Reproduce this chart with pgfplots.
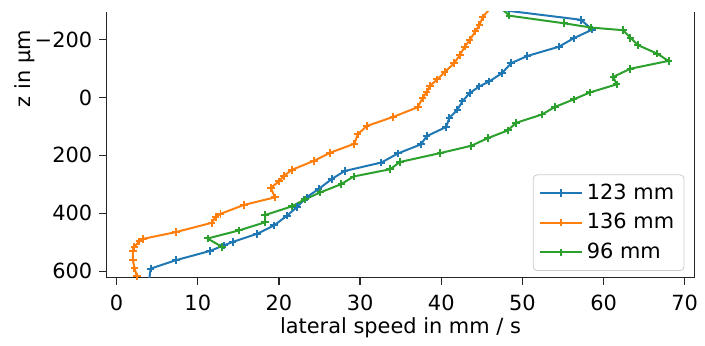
\documentclass[border=0pt]{standalone}
\usepackage{fontspec}
\setmainfont{DejaVu Sans}
\usepackage{pgfplots}
\pgfplotsset{compat=1.18}
\definecolor{tabblue}{HTML}{1F77B4}
\definecolor{taborange}{HTML}{FF7F0E}
\definecolor{tabgreen}{HTML}{2CA02C}
\begin{document}
\fontsize{10.5}{12.6}\selectfont
\begin{tikzpicture}
\begin{axis}[name=ax,
  width=295.5pt, height=133.5pt, scale only axis,
  xmin=-1.25, xmax=71.2, ymin=-295, ymax=622, y dir=reverse,
  axis x line*=bottom, axis y line*=left,
  axis line style={black!85, line width=0.7pt},
  tick style={black!85, line width=0.7pt},
  tick align=outside, major tick length=3.5pt,
  xtick={0,10,...,70},
  ytick={-200,0,200,400,600}, yticklabels={−200,0,200,400,600},
  xticklabel style={yshift=-1.5pt},
  /pgf/number format/assume math mode=true,
  xlabel={lateral speed in mm / s}, ylabel={z in µm},
  xlabel style={at={(axis description cs:0.5,-0.19)}, anchor=center},
  ylabel style={at={(axis description cs:-0.139,0.786)}, anchor=center},
  legend cell align=left,
  legend style={at={(axis description cs:0.983,0.025)}, anchor=south east,
    draw=black!20, rounded corners=2pt, inner xsep=3pt, inner ysep=2.5pt, row sep=1.5pt},
  legend image code/.code={\draw[mark repeat=2,mark phase=2,#1] plot coordinates {(0pt,0pt) (10.5pt,0pt) (21pt,0pt)};},
  every axis plot/.append style={line width=1pt, mark=+, mark size=1.9pt, mark options={solid}},
]
\addplot[tabblue] coordinates {
(4.0,630) (4.2,591) (7.3,562) (11.5,530) (13.2,511) (14.3,499) (17.3,471) (19.4,442)
(21.0,408) (22.2,379) (23.4,345) (24.9,316) (26.5,282) (28.1,254) (32.6,225) (34.7,193)
(37.5,162) (38.2,134) (40.6,102) (41.0,71) (42.0,42) (42.6,14) (43.5,-15) (44.7,-38)
(45.9,-55) (47.5,-84) (48.6,-118) (50.6,-143) (54.5,-175) (56.3,-204) (58.6,-234)
(57.2,-268) (46.5,-305)
};
\addlegendentry{123 mm}
\addplot[taborange] coordinates {
(2.5,618) (2.2,588) (2.0,560) (2.0,530) (2.2,515) (2.8,497) (3.3,488) (7.3,465)
(11.7,433) (12.2,413) (12.8,402) (15.7,371) (19.5,345) (19.0,312) (20.0,290) (20.6,271)
(21.6,250) (24.3,219) (26.3,191) (29.3,160) (29.7,128) (30.8,99) (34.1,67) (37.1,34)
(37.7,2) (38.2,-18) (38.6,-40) (39.5,-62) (40.4,-87) (41.6,-118) (42.3,-147) (42.9,-175)
(43.5,-198) (44.2,-228) (44.7,-250) (45.1,-276) (45.7,-297) (46.2,-310)
};
\addlegendentry{136 mm}
\addplot[tabgreen] coordinates {
(13.0,516) (11.2,487) (15.1,459) (18.3,431) (18.3,406) (21.6,376) (23.2,352) (25.1,328)
(27.7,299) (29.2,273) (33.7,248) (34.9,223) (39.9,192) (43.7,167) (45.7,141) (48.2,114)
(49.2,88) (52.4,59) (54.0,33) (56.3,7) (58.3,-17) (61.6,-45) (61.2,-71) (63.3,-99)
(68.0,-126) (66.6,-151) (64.2,-181) (63.3,-206) (62.4,-232) (58.5,-241) (55.1,-256)
(48.4,-282) (47.3,-310)
};
\addlegendentry{96 mm}
\end{axis}
\draw[black!85, line width=0.7pt] (ax.south east) -- (ax.north east);
\path ([xshift=-53.5pt,yshift=-31pt]ax.south west) rectangle ([xshift=3.5pt,yshift=6pt]ax.north east);
\end{tikzpicture}
\end{document}
